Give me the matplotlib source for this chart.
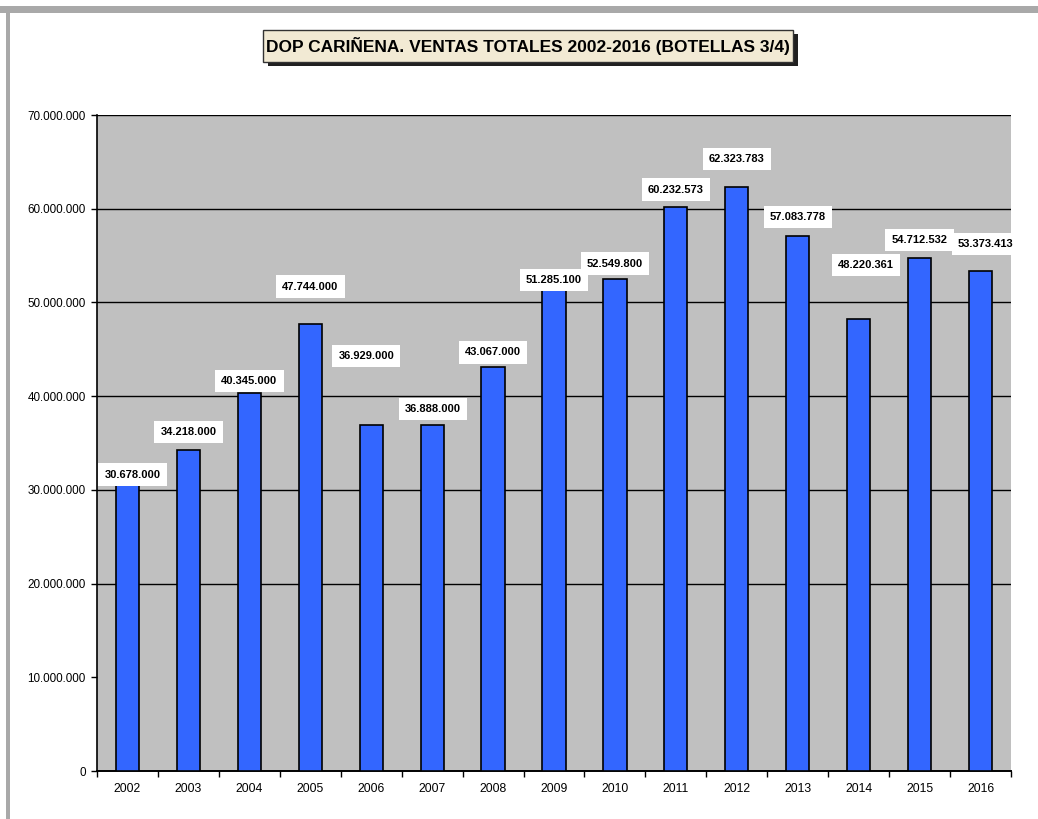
import numpy as np
import matplotlib.pyplot as plt
from matplotlib.patches import Rectangle

# Datos: ventas totales DOP Cariñena (botellas 3/4)
anios = ['2002', '2003', '2004', '2005', '2006', '2007', '2008', '2009',
         '2010', '2011', '2012', '2013', '2014', '2015', '2016']
ventas = [30678000, 34218000, 40345000, 47744000, 36929000, 36888000, 43067000,
          51285100, 52549800, 60232573, 62323783, 57083778, 48220361, 54712532,
          53373413]
etiquetas = ['30.678.000', '34.218.000', '40.345.000', '47.744.000', '36.929.000',
             '36.888.000', '43.067.000', '51.285.100', '52.549.800', '60.232.573',
             '62.323.783', '57.083.778', '48.220.361', '54.712.532', '53.373.413']
ticks_y = [0, 10000000, 20000000, 30000000, 40000000, 50000000, 60000000, 70000000]

# desplazamiento de cada etiqueta respecto al techo de la barra (pixeles)
dy_etq = [9, 18, 12, 37, 69, 16, 15, 10, 15, 17, 28, 19, 54, 18, 27]
dx_etq = [5, 0, 0, 0, -5, 1, 0, 0, 0, 0, 0, 0, 7, 0, 5]

fuente = ['Liberation Sans', 'DejaVu Sans']

fig = plt.figure(figsize=(10.38, 8.19), dpi=100)
fig.patch.set_facecolor('white')

# marco gris de la pagina (arriba e izquierda)
fig.patches.append(Rectangle((0, 1 - 13 / 819), 1, 7 / 819, transform=fig.transFigure,
                             facecolor='#a9a9a9', edgecolor='none'))
fig.patches.append(Rectangle((6 / 1038, 0), 4 / 1038, 1 - 6 / 819, transform=fig.transFigure,
                             facecolor='#a9a9a9', edgecolor='none'))

ax = fig.add_axes([97 / 1038, 1 - 771 / 819, (1011 - 97) / 1038, (771 - 115) / 819])
ax.set_facecolor('#c0c0c0')

x = np.arange(len(anios))
ax.bar(x, ventas, width=0.38, color='#3366ff', edgecolor='black', linewidth=1.2, zorder=3)

# lineas de division (sin la de 10 millones, como en el original)
for t in ticks_y[2:]:
    ax.axhline(t, color='black', linewidth=1.0, zorder=1)

ax.set_xlim(-0.5, len(anios) - 0.5)
ax.set_ylim(0, 70000000)
ax.set_yticks(ticks_y)
ax.set_yticklabels([f'{t:,}'.replace(',', '.') for t in ticks_y], family=fuente, fontsize=8.4)
ax.set_xticks(x)
ax.set_xticklabels(anios, family=fuente, fontsize=8.8)
ax.set_xticks(np.arange(len(anios) + 1) - 0.5, minor=True)
ax.tick_params(axis='x', which='major', length=0, pad=9)
ax.tick_params(axis='x', which='minor', length=4, width=1, direction='out')
ax.tick_params(axis='y', length=4, width=1, direction='out', pad=4)

for lado in ['top', 'right']:
    ax.spines[lado].set_visible(False)
ax.spines['left'].set_linewidth(1.2)
ax.spines['bottom'].set_linewidth(1.4)

for i, v in enumerate(ventas):
    ax.annotate(etiquetas[i], (x[i], v), xytext=(dx_etq[i], dy_etq[i]),
                textcoords='offset pixels', ha='center', va='center',
                family=fuente, fontsize=8, fontweight='bold', zorder=5,
                bbox=dict(boxstyle='square,pad=0.55', facecolor='white', edgecolor='none'))

# titulo en caja beige con sombra
fig.patches.append(Rectangle((268 / 1038, 1 - 66 / 819), 530 / 1038, 32 / 819,
                             transform=fig.transFigure, facecolor='#202020', edgecolor='none'))
fig.patches.append(Rectangle((263 / 1038, 1 - 62 / 819), 530 / 1038, 32 / 819,
                             transform=fig.transFigure, facecolor='#f2ead4',
                             edgecolor='#333333', linewidth=1))
fig.text(528 / 1038, 1 - 46 / 819, 'DOP CARIÑENA. VENTAS TOTALES 2002-2016 (BOTELLAS 3/4)',
         ha='center', va='center', family=fuente, fontsize=12.5, fontweight='bold')

fig.savefig('out.png', dpi=100)
